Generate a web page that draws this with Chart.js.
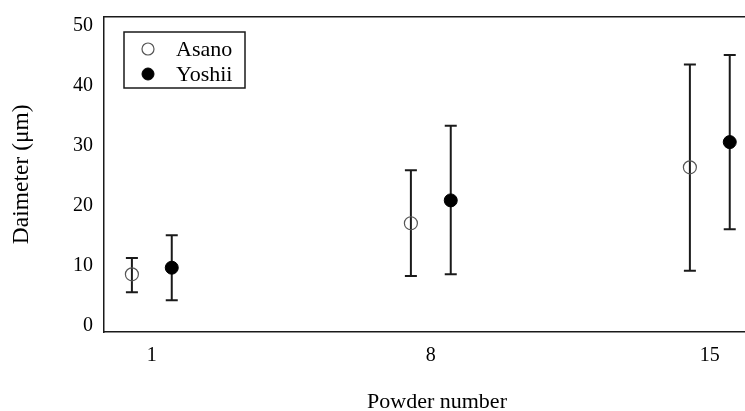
<!DOCTYPE html>
<html>
<head>
<meta charset="utf-8">
<script src="https://cdn.jsdelivr.net/npm/chart.js@4.4.1/dist/chart.umd.min.js"></script>
<style>
  html, body { margin: 0; padding: 0; background: #fff; overflow: hidden; }
  /* The plot frame runs a little past the right edge of the view */
  #wrap { width: 745px; height: 411px; overflow: hidden; }
</style>
</head>
<body>
<div id="wrap"><canvas id="c" width="770" height="411"></canvas></div>
<script>
// Powder numbers on the x axis
const powderNumbers = [1, 8, 15];

// Asano: mean diameter and error-bar range (μm)
const asanoMean = [8.6, 17.1, 26.4];
const asanoLow  = [5.6, 8.3, 9.2];
const asanoHigh = [11.3, 25.9, 43.5];

// Yoshii: mean diameter and error-bar range (μm)
const yoshiiMean = [9.7, 20.9, 30.6];
const yoshiiLow  = [4.3, 8.6, 16.1];
const yoshiiHigh = [15.1, 33.3, 45.1];

// Axis tick labels
const xTicks = [1, 8, 15];
const yTicks = [0, 10, 20, 30, 40, 50];

// Side-by-side placement of the two methods around each powder number
const PAIR_OFFSET = 0.5;

const SERIF = '"Liberation Serif", "Times New Roman", Times, serif';
const INK = '#1a1a1a';

function points(xs, ys, shift) {
  return xs.map((x, i) => ({ x: x + shift, y: ys[i] }));
}

// Error bars as broken line segments; nulls separate the bars
function errorSegments(xs, lows, highs, shift) {
  const out = [];
  xs.forEach((x, i) => {
    out.push({ x: x + shift, y: lows[i] });
    out.push({ x: x + shift, y: highs[i] });
    out.push({ x: x + shift, y: null });
  });
  return out;
}

// Keep the plot area edges fixed: no extra room reserved for overhanging labels
function fixBox(size) {
  return s => {
    if (s.isHorizontal()) s.height = size; else s.width = size;
    s.paddingTop = 0; s.paddingBottom = 0; s.paddingLeft = 0; s.paddingRight = 0;
  };
}

const errStyle = {
  type: 'scatter',
  showLine: true,
  spanGaps: false,
  borderColor: INK,
  borderWidth: 2,
  pointStyle: 'line',
  pointRadius: 6,
  pointBorderColor: INK,
  pointBorderWidth: 2,
  pointBackgroundColor: INK,
  isErrorBar: true
};

const datasets = [
  Object.assign({ label: 'Asano error', data: errorSegments(powderNumbers, asanoLow, asanoHigh, -PAIR_OFFSET), order: 1 }, errStyle),
  Object.assign({ label: 'Yoshii error', data: errorSegments(powderNumbers, yoshiiLow, yoshiiHigh, PAIR_OFFSET), order: 1 }, errStyle),
  {
    type: 'scatter',
    label: 'Asano',
    data: points(powderNumbers, asanoMean, -PAIR_OFFSET),
    pointStyle: 'circle',
    pointRadius: 6.5,
    pointBackgroundColor: 'rgba(255,255,255,0)',
    pointBorderColor: '#555',
    pointBorderWidth: 1.2,
    order: 0
  },
  {
    type: 'scatter',
    label: 'Yoshii',
    data: points(powderNumbers, yoshiiMean, PAIR_OFFSET),
    pointStyle: 'circle',
    pointRadius: 6.5,
    pointBackgroundColor: '#000',
    pointBorderColor: '#000',
    pointBorderWidth: 1,
    order: 0
  }
];

// Boxed legend inside the plot area, listing the marker series
const boxedLegend = {
  id: 'boxedLegend',
  afterDraw(chart) {
    const ctx = chart.ctx;
    const items = chart.data.datasets.filter(d => !d.isErrorBar);
    const left = 124, top = 32, w = 121, h = 56;
    ctx.save();
    ctx.strokeStyle = INK;
    ctx.lineWidth = 1.5;
    ctx.strokeRect(left, top, w, h);
    ctx.font = '22px ' + SERIF;
    ctx.textBaseline = 'middle';
    ctx.textAlign = 'left';
    items.forEach((d, i) => {
      const cy = top + 17 + i * 25;
      ctx.beginPath();
      ctx.arc(left + 24, cy, 6, 0, Math.PI * 2);
      if (d.pointBackgroundColor !== 'rgba(255,255,255,0)') {
        ctx.fillStyle = d.pointBackgroundColor;
        ctx.fill();
      }
      ctx.lineWidth = d.pointBorderWidth;
      ctx.strokeStyle = d.pointBorderColor;
      ctx.stroke();
      ctx.fillStyle = '#000';
      ctx.fillText(d.label, left + 52, cy + 1);
    });
    ctx.restore();
  }
};

new Chart(document.getElementById('c'), {
  data: { datasets },
  options: {
    responsive: false,
    animation: false,
    events: [],
    layout: { autoPadding: false, padding: { top: 16.5, right: 0, bottom: 0, left: 0 } },
    plugins: { legend: { display: false }, tooltip: { enabled: false } },
    scales: {
      x: {
        type: 'linear',
        position: 'bottom',
        min: -0.2,
        max: 16.51,
        afterBuildTicks: s => { s.ticks = xTicks.map(v => ({ value: v })); },
        afterFit: fixBox(79),
        grid: { display: false, drawTicks: false },
        border: { display: true, color: INK, width: 1.5 },
        ticks: { color: '#000', padding: 11.7, font: { family: SERIF, size: 20 } },
        title: {
          display: true,
          text: 'Powder number',
          color: '#000',
          padding: { top: 0, bottom: 0 },
          font: { family: SERIF, size: 22, lineHeight: 0.8 }
        }
      },
      x2: {
        type: 'linear',
        position: 'top',
        min: -0.2,
        max: 16.51,
        afterFit: fixBox(0),
        grid: { display: false, drawTicks: false },
        border: { display: true, color: INK, width: 1.5 },
        ticks: { display: false }
      },
      y: {
        type: 'linear',
        position: 'left',
        min: -1,
        max: 51.5,
        afterBuildTicks: s => { s.ticks = yTicks.map(v => ({ value: v })); },
        afterFit: fixBox(104),
        grid: { display: false, drawTicks: false },
        border: { display: true, color: INK, width: 1.5 },
        ticks: { color: '#000', padding: 11, font: { family: SERIF, size: 20 } },
        title: {
          display: true,
          text: 'Daimeter (μm)',
          color: '#000',
          padding: { top: 8, bottom: 0 },
          font: { family: SERIF, size: 23.5, lineHeight: 1.2 }
        }
      }
    }
  },
  plugins: [boxedLegend]
});
</script>
</body>
</html>
